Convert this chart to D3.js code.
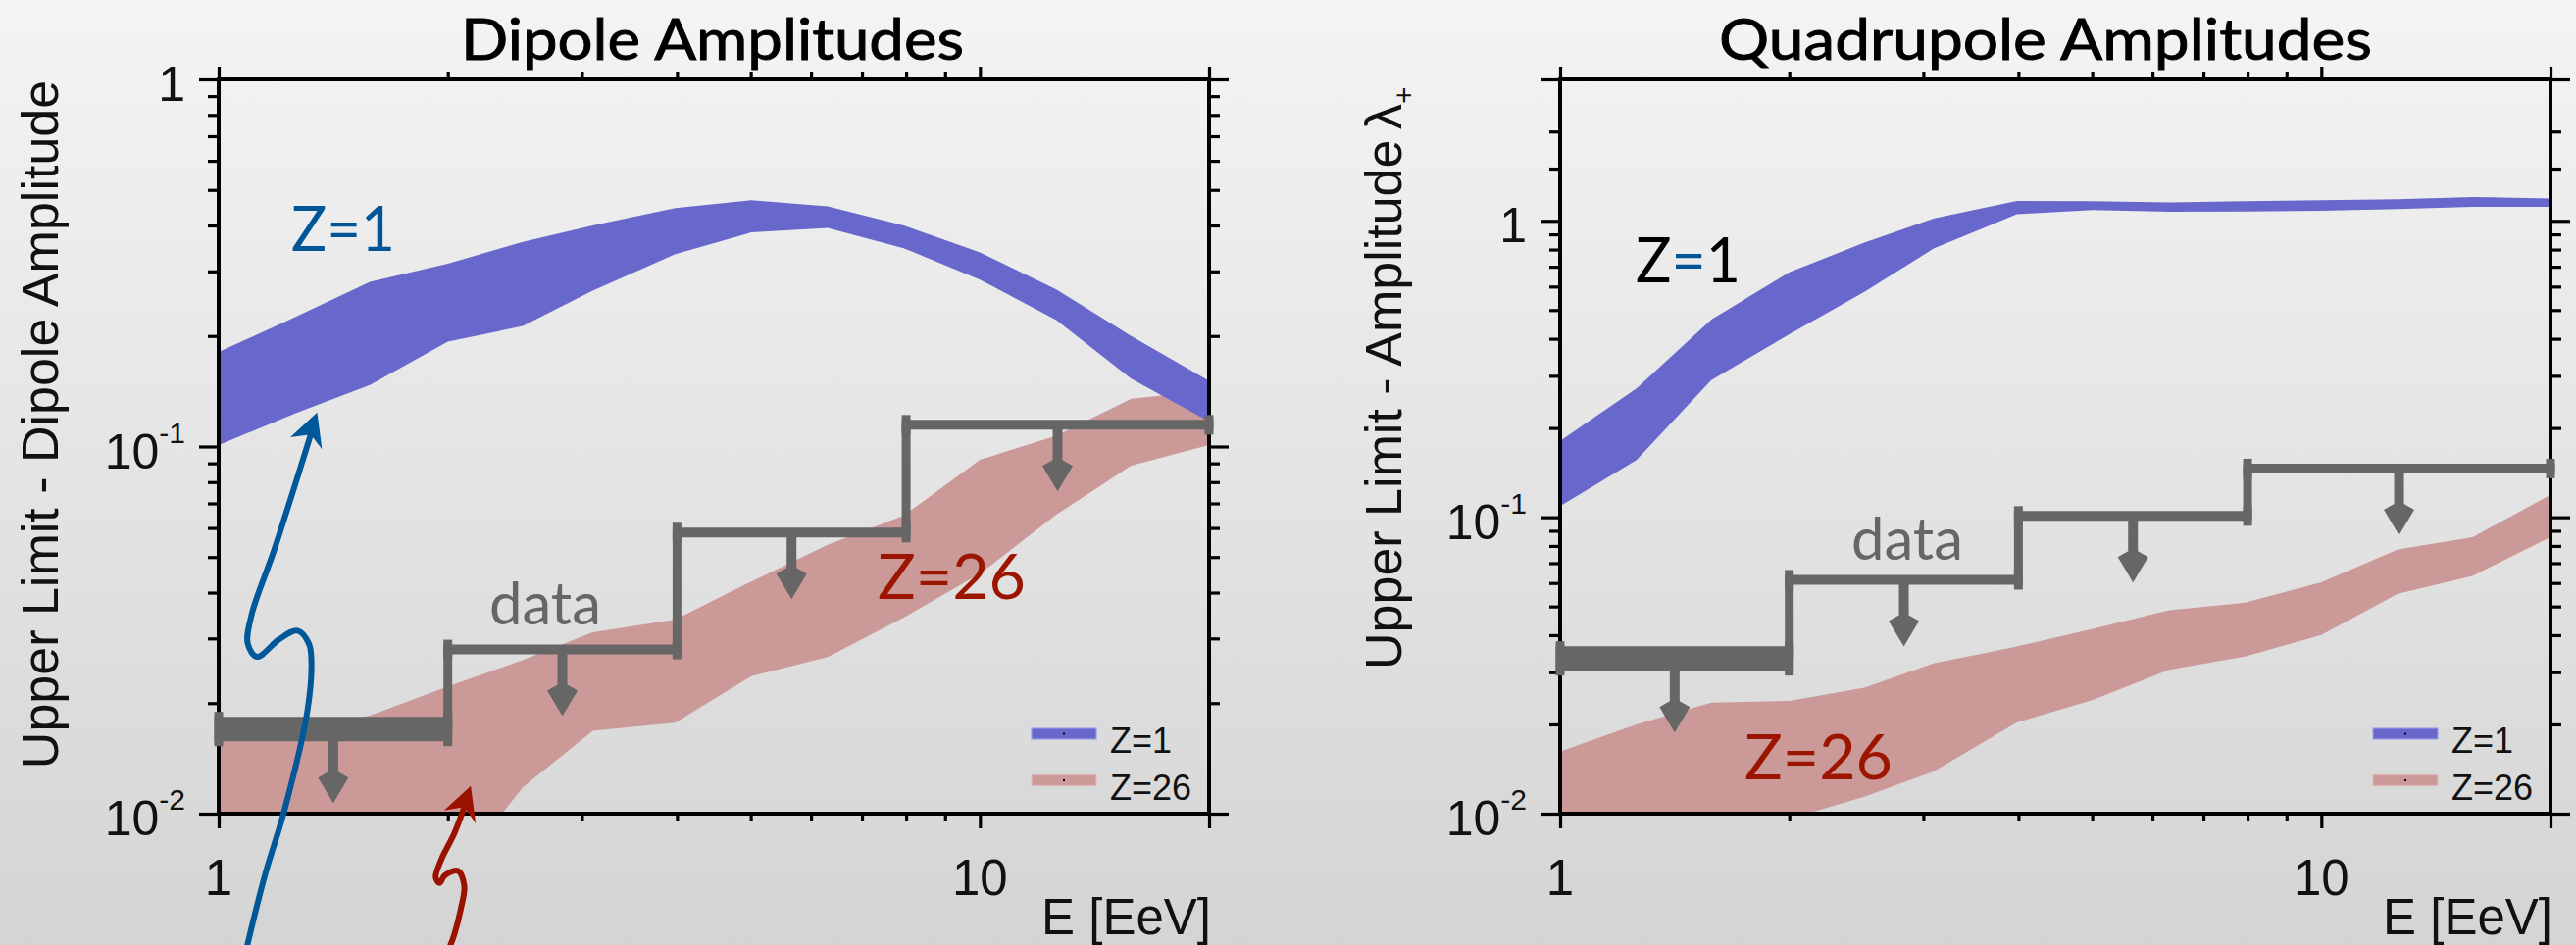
<!DOCTYPE html>
<html><head><meta charset="utf-8">
<script src="https://cdn.jsdelivr.net/npm/d3@7"></script>
<style>html,body{margin:0;padding:0;overflow:hidden;background:#e4e4e4}svg{display:block}</style>
</head><body>
<svg id="chart" width="2627" height="964"></svg>
<script>
// ---------------- DATA ----------------
const energies = [1, 1.26, 1.58, 2, 2.51, 3.1, 3.98, 5.01, 6.31, 7.94, 10, 12.6, 15.8, 20];

const dipoleZ1Low   = [0.101, 0.123, 0.147, 0.193, 0.213, 0.266, 0.334, 0.383, 0.394, 0.347, 0.285, 0.221, 0.153, 0.117];
const dipoleZ1High  = [0.181, 0.225, 0.281, 0.315, 0.361, 0.400, 0.446, 0.469, 0.451, 0.400, 0.338, 0.268, 0.200, 0.151];
const dipoleZ26Low  = [0.0055, 0.0057, 0.0060, 0.0065, 0.0118, 0.0168, 0.0177, 0.0237, 0.0267, 0.0342, 0.0450, 0.0652, 0.0887, 0.101];
const dipoleZ26High = [0.0163, 0.0170, 0.0185, 0.0222, 0.0262, 0.0312, 0.0338, 0.0429, 0.0540, 0.0648, 0.0920, 0.107, 0.135, 0.142];

const quadZ1Low   = [0.109, 0.156, 0.290, 0.414, 0.576, 0.808, 1.052, 1.087, 1.073, 1.075, 1.081, 1.095, 1.115, 1.115];
const quadZ1High  = [0.181, 0.272, 0.464, 0.671, 0.844, 1.020, 1.167, 1.165, 1.153, 1.165, 1.173, 1.183, 1.204, 1.190];
const quadZ26Low  = [0.0070, 0.0075, 0.0082, 0.0096, 0.0114, 0.0139, 0.0203, 0.0242, 0.0306, 0.0339, 0.0401, 0.0552, 0.0634, 0.0857];
const quadZ26High = [0.0162, 0.0200, 0.0237, 0.0240, 0.0266, 0.0322, 0.0366, 0.0420, 0.0486, 0.0515, 0.0603, 0.0778, 0.0857, 0.119];

const binEdges = [1, 2, 4, 8, 20];
const dipoleUpperLimit = [0.0170, 0.0280, 0.0583, 0.1146];
const quadUpperLimit   = [0.0334, 0.0615, 0.101, 0.146];

const xMajorTicks = [1, 10, 20];
const xMinorTicks = [2, 3, 4, 5, 6, 7, 8, 9];
const xTickValues = [1, 10];
const xTickLabels = ["1", "10"];

const dipoleYMajor = [0.01, 0.1, 1];
const dipoleYMinor = [0.02,0.03,0.04,0.05,0.06,0.07,0.08,0.09,0.2,0.3,0.4,0.5,0.6,0.7,0.8,0.9];
const quadYMajor = [0.01, 0.1, 1, 3];
const quadYMinor = [0.02,0.03,0.04,0.05,0.06,0.07,0.08,0.09,0.2,0.3,0.4,0.5,0.6,0.7,0.8,0.9,1.5,2];
const yTickValues = [0.01, 0.1, 1];
const yTickBase = ["10", "10", "1"];
const yTickSup  = ["-2", "-1", ""];

const legendLabels = ["Z=1", "Z=26"];

// annotation arrows (dipole panel), in data coordinates (E, amplitude)
const blueArrowE = [1.089, 1.150, 1.220, 1.307, 1.324, 1.314, 1.269, 1.202, 1.123, 1.092, 1.105, 1.184, 1.321];
const blueArrowV = [0.00433, 0.00679, 0.01021, 0.01888, 0.02565, 0.0290, 0.0315, 0.0299, 0.02675, 0.0290, 0.0349, 0.0526, 0.1078];
const blueHeadE = [1.347, 1.242, 1.321, 1.367];
const blueHeadV = [0.1239, 0.106, 0.1078, 0.0983];
const redArrowE = [2.011, 2.040, 2.081, 2.102, 2.061, 1.981, 1.951, 1.928, 1.961, 2.040, 2.102];
const redArrowV = [0.00433, 0.00469, 0.00552, 0.00637, 0.00699, 0.00678, 0.00647, 0.0067, 0.0075, 0.00884, 0.01042];
const redHeadE = [2.144, 1.977, 2.102, 2.176];
const redHeadV = [0.0119, 0.0102, 0.01042, 0.0094];

// ---------------- DRAWING ----------------
const W = 2627, H = 964;
const svg = d3.select("#chart");
const defs = svg.append("defs");
const grad = defs.append("linearGradient").attr("id","bg").attr("x1",0).attr("y1",0).attr("x2",0).attr("y2",1);
grad.append("stop").attr("offset","0%").attr("stop-color","#f4f4f4");
grad.append("stop").attr("offset","100%").attr("stop-color","#d4d4d4");
svg.append("rect").attr("width",W).attr("height",H).attr("fill","url(#bg)");

const BLUE_BAND = "#6868cc", PINK_BAND = "#cc9999", GRAY = "#666666";
const TXT_BLUE = "#005596", TXT_RED = "#9c1500";
const AXFONT = "'Liberation Sans', Arial, Helvetica, sans-serif";
const ANFONT = "Lato, 'Open Sans', sans-serif";

function drawPanel(o) {
  const x = d3.scaleLog().domain([1, 20]).range([o.left, o.right]);
  const y = d3.scaleLog().domain(o.yDomain).range([o.bottom, o.top]);
  const g = svg.append("g");

  defs.append("clipPath").attr("id", "clip-" + o.key)
    .append("rect").attr("x", o.left).attr("y", o.top)
    .attr("width", o.right - o.left).attr("height", o.bottom - o.top);

  const area = (lo, hi) => d3.area()
    .x((d, i) => x(energies[i])).y0((d, i) => y(lo[i])).y1((d, i) => y(hi[i]))(energies);

  g.append("path").attr("d", area(o.z26Low, o.z26High)).attr("fill", PINK_BAND)
    .attr("clip-path", `url(#clip-${o.key})`);
  g.append("path").attr("d", area(o.z1Low, o.z1High)).attr("fill", BLUE_BAND)
    .attr("clip-path", `url(#clip-${o.key})`);

  // axes ticks
  function addAxis(axisFn, scale, vals, size, tr) {
    const a = axisFn(scale).tickValues(vals).tickSize(size).tickSizeOuter(0).tickFormat("");
    const s = g.append("g").attr("transform", tr).call(a);
    s.select(".domain").remove();
    s.selectAll("text").remove();
    s.selectAll("line").attr("stroke", "#000").attr("stroke-width", 3.2);
  }
  addAxis(d3.axisLeft, y, o.yMinor, 11, `translate(${o.left},0)`);
  addAxis(d3.axisLeft, y, o.yMajor, 20, `translate(${o.left},0)`);
  addAxis(d3.axisRight, y, o.yMinor, 11, `translate(${o.right},0)`);
  addAxis(d3.axisRight, y, o.yMajor, 20, `translate(${o.right},0)`);
  addAxis(d3.axisTop, x, xMinorTicks, 8, `translate(0,${o.top})`);
  addAxis(d3.axisTop, x, xMajorTicks, 13, `translate(0,${o.top})`);
  addAxis(d3.axisBottom, x, xMinorTicks, 8, `translate(0,${o.bottom})`);
  addAxis(d3.axisBottom, x, xMajorTicks, 15, `translate(0,${o.bottom})`);
  g.append("rect").attr("x", o.left).attr("y", o.top)
    .attr("width", o.right - o.left).attr("height", o.bottom - o.top)
    .attr("fill", "none").attr("stroke", "#000").attr("stroke-width", 4);

  // y tick labels
  yTickValues.forEach((v, i) => {
    const t = g.append("text").attr("x", o.left - 34).attr("y", y(v) + 22)
      .attr("text-anchor", "end").attr("font-family", AXFONT).attr("font-size", 50).attr("fill", "#111");
    t.append("tspan").text(yTickBase[i]);
    if (yTickSup[i]) t.append("tspan").attr("font-size", 30).attr("dy", -26).text(yTickSup[i]);
  });
  // x tick labels
  xTickValues.forEach((v, i) => {
    g.append("text").attr("x", x(v)).attr("y", 913).attr("text-anchor", "middle")
      .attr("font-family", AXFONT).attr("font-size", 51).attr("fill", "#111").text(xTickLabels[i]);
  });
  g.append("text").attr("x", o.right + 2).attr("y", 953).attr("text-anchor", "end")
    .attr("font-family", AXFONT).attr("font-size", 51).attr("fill", "#111").text("E [EeV]");

  // y title
  const yt = g.append("text").attr("font-family", AXFONT).attr("font-size", 52).attr("fill", "#111")
    .attr("transform", `translate(${o.ytX},${o.ytY}) rotate(-90)`).attr("text-anchor", o.ytAnchor);
  yt.append("tspan").text(o.ytText);
  if (o.ytLambda) {
    yt.append("tspan").attr("dx", -4).text("λ");
    yt.append("tspan").attr("font-size", 30).attr("dy", 13).text("+");
  }

  // title
  g.append("text").attr("x", o.titleX).attr("y", 61).attr("font-family", ANFONT).attr("font-size", 58)
    .attr("fill", "#000").attr("stroke", "#000").attr("stroke-width", 0.9)
    .attr("textLength", o.titleLen).attr("lengthAdjust", "spacingAndGlyphs").text(o.title);

  // data upper-limit steps
  const st = g.append("g").attr("stroke", GRAY).attr("fill", "none");
  o.ul.forEach((v, i) => {
    const e0 = binEdges[i], e1 = binEdges[i + 1];
    const lw = i === 0 ? 25 : 10;
    const yy = y(v);
    if (i > 0) {
      st.append("line").attr("x1", x(e0)).attr("x2", x(e0)).attr("y1", y(o.ul[i - 1])).attr("y2", yy)
        .attr("stroke-width", 9);
    }
    st.append("line").attr("x1", x(e0) - 4.5).attr("x2", x(e1) + 4.5).attr("y1", yy).attr("y2", yy)
      .attr("stroke-width", lw);
    [e0, e1].forEach(e => {
      st.append("line").attr("x1", x(e)).attr("x2", x(e)).attr("y1", yy - lw / 2 - 5).attr("y2", yy + lw / 2 + 5)
        .attr("stroke-width", 9);
    });
    const cx = x(Math.sqrt(e0 * e1));
    const tip = yy + lw / 2 + 63;
    const pts = [[cx - 5, yy], [cx - 5, tip - 32], [cx - 15.5, tip - 26], [cx, tip],
                 [cx + 15.5, tip - 26], [cx + 5, tip - 32], [cx + 5, yy]];
    g.append("path").attr("d", "M" + pts.map(p => p.join(",")).join("L") + "Z").attr("fill", GRAY);
  });

  // legend
  const lx = o.right - 181;
  [[BLUE_BAND, "#9c9ce6", 748.5, 768], [PINK_BAND, "#e0b8b8", 796, 815.5]].forEach((d, i) => {
    g.append("rect").attr("x", lx).attr("y", d[2] - 5.5).attr("width", 66).attr("height", 11)
      .attr("fill", d[0]).attr("stroke", d[1]).attr("stroke-width", 1.2);
    g.append("rect").attr("x", lx + 32).attr("y", d[2] - 1).attr("width", 2).attr("height", 2).attr("fill", "#000");
    g.append("text").attr("x", o.right - 101).attr("y", d[3]).attr("font-family", AXFONT)
      .attr("font-size", 36).attr("fill", "#111").text(legendLabels[i]);
  });

  // annotations
  const ann = (txt, px, py, len, fill, size) =>
    g.append("text").attr("x", px).attr("y", py).attr("font-family", ANFONT).attr("font-size", size)
      .attr("fill", fill).attr("textLength", len).attr("lengthAdjust", "spacingAndGlyphs").text(txt);
  ann("data", o.dataX, o.dataY, 114, GRAY, 60);
  ann("Z=26", o.z26X, o.z26Y, 151, TXT_RED, 64);
  if (o.z1Mixed) {
    const t = g.append("text").attr("x", o.z1X).attr("y", o.z1Y).attr("font-family", ANFONT).attr("font-size", 64)
      .attr("textLength", 107).attr("lengthAdjust", "spacingAndGlyphs");
    t.append("tspan").attr("fill", "#000").text("Z");
    t.append("tspan").attr("fill", TXT_BLUE).text("=");
    t.append("tspan").attr("fill", "#000").text("1");
  } else {
    ann("Z=1", o.z1X, o.z1Y, 106, TXT_BLUE, 64);
  }
  return {x, y, g};
}

const dip = drawPanel({
  key: "dip", left: 223, right: 1233, top: 81, bottom: 830, yDomain: [0.01, 1],
  z1Low: dipoleZ1Low, z1High: dipoleZ1High, z26Low: dipoleZ26Low, z26High: dipoleZ26High,
  yMajor: dipoleYMajor, yMinor: dipoleYMinor, ul: dipoleUpperLimit,
  title: "Dipole Amplitudes", titleX: 470, titleLen: 513,
  ytText: "Upper Limit - Dipole Amplitude", ytX: 59, ytY: 433, ytAnchor: "middle", ytLambda: false,
  dataX: 499, dataY: 637, z26X: 895, z26Y: 611, z1X: 297, z1Y: 256, z1Mixed: false
});

drawPanel({
  key: "quad", left: 1591, right: 2601, top: 81, bottom: 830, yDomain: [0.01, 3],
  z1Low: quadZ1Low, z1High: quadZ1High, z26Low: quadZ26Low, z26High: quadZ26High,
  yMajor: quadYMajor, yMinor: quadYMinor, ul: quadUpperLimit,
  title: "Quadrupole Amplitudes", titleX: 1753, titleLen: 666,
  ytText: "Upper Limit - Amplitude ", ytX: 1429, ytY: 683, ytAnchor: "start", ytLambda: true,
  dataX: 1888, dataY: 571, z26X: 1779, z26Y: 795, z1X: 1668, z1Y: 288, z1Mixed: true
});

// curved annotation arrows in dipole panel
function curvedArrow(es, vs, he, hv, color) {
  const pts = es.map((e, i) => [dip.x(e), dip.y(vs[i])]);
  svg.append("path").attr("d", d3.line().curve(d3.curveCatmullRom.alpha(0.5))(pts))
    .attr("fill", "none").attr("stroke", color).attr("stroke-width", 6).attr("stroke-linecap", "round");
  const hp = he.map((e, i) => [dip.x(e), dip.y(hv[i])]);
  svg.append("path").attr("d", "M" + hp.map(p => p.join(",")).join("L") + "Z").attr("fill", color);
}
curvedArrow(blueArrowE, blueArrowV, blueHeadE, blueHeadV, "#00579a");
curvedArrow(redArrowE, redArrowV, redHeadE, redHeadV, "#9b1300");
</script>
</body></html>
